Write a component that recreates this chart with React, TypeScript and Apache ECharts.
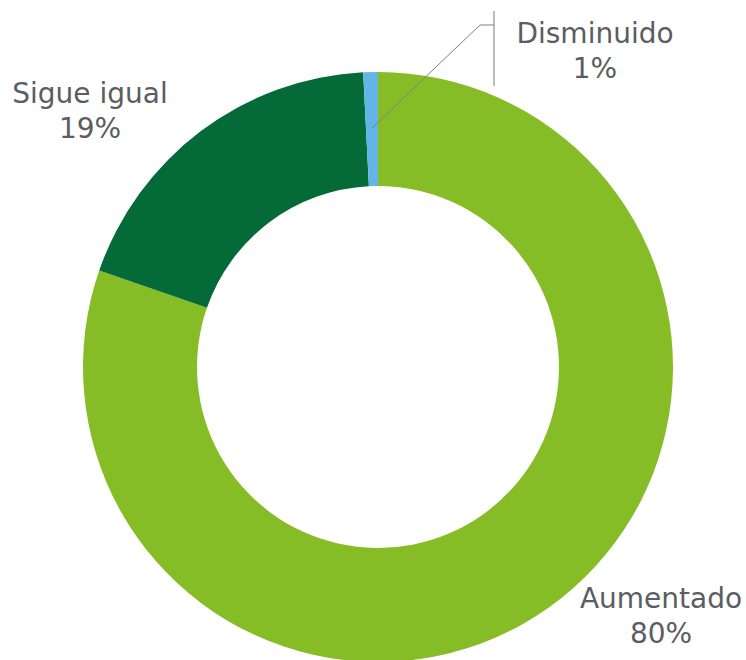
import React, { useEffect, useRef } from "react";
import * as echarts from "echarts";

const categories = ["Aumentado", "Sigue igual", "Disminuido"];
const values = [80.3, 18.9, 0.8];
const colors = ["#86BC25", "#046A38", "#62B5E5"];

export default function App() {
  const ref = useRef<HTMLDivElement>(null);
  useEffect(() => {
    const chart = echarts.init(ref.current!, null, { renderer: "svg" });
    const labelPos: Record<number, { x: number; y: number }> = {
      0: { x: 661, y: 616 },
      1: { x: 90, y: 111 },
      2: { x: 595, y: 51 },
    };
    chart.setOption({
      animation: false,
      backgroundColor: "#ffffff",
      graphic: [
        {
          type: "line",
          z: 100,
          shape: { x1: 494, y1: 11, x2: 494, y2: 86 },
          style: { stroke: "#a6a6a6", lineWidth: 1.5 },
        },
        {
          type: "polyline",
          z: 100,
          shape: {
            points: [
              [372, 128],
              [480, 25],
              [494, 25],
            ],
          },
          style: { stroke: "#808080", lineWidth: 1, fill: null },
        },
      ],
      series: [
        {
          type: "pie",
          center: [378, 367],
          radius: [181, 295],
          startAngle: 90,
          clockwise: true,
          avoidLabelOverlap: false,
          data: categories.map((name, i) => ({
            name,
            value: values[i],
            itemStyle: { color: colors[i] },
          })),
          label: {
            show: true,
            position: "outside",
            formatter: (p: any) => `${p.name}\n${Math.round(p.percent)}%`,
            fontFamily: "DejaVu Sans",
            fontSize: 28,
            lineHeight: 35,
            color: "#5a5d61",
            align: "center",
          },
          labelLine: { show: false },
          labelLayout: (params: any) => {
            const pos = labelPos[params.dataIndex];
            return {
              x: pos.x,
              y: pos.y,
              align: "center",
              verticalAlign: "middle",
            };
          },
        },
      ],
    });
    return () => chart.dispose();
  }, []);
  return (
    <div
      ref={ref}
      style={{ position: "fixed", left: 0, top: 0, width: 746, height: 660 }}
    />
  );
}
